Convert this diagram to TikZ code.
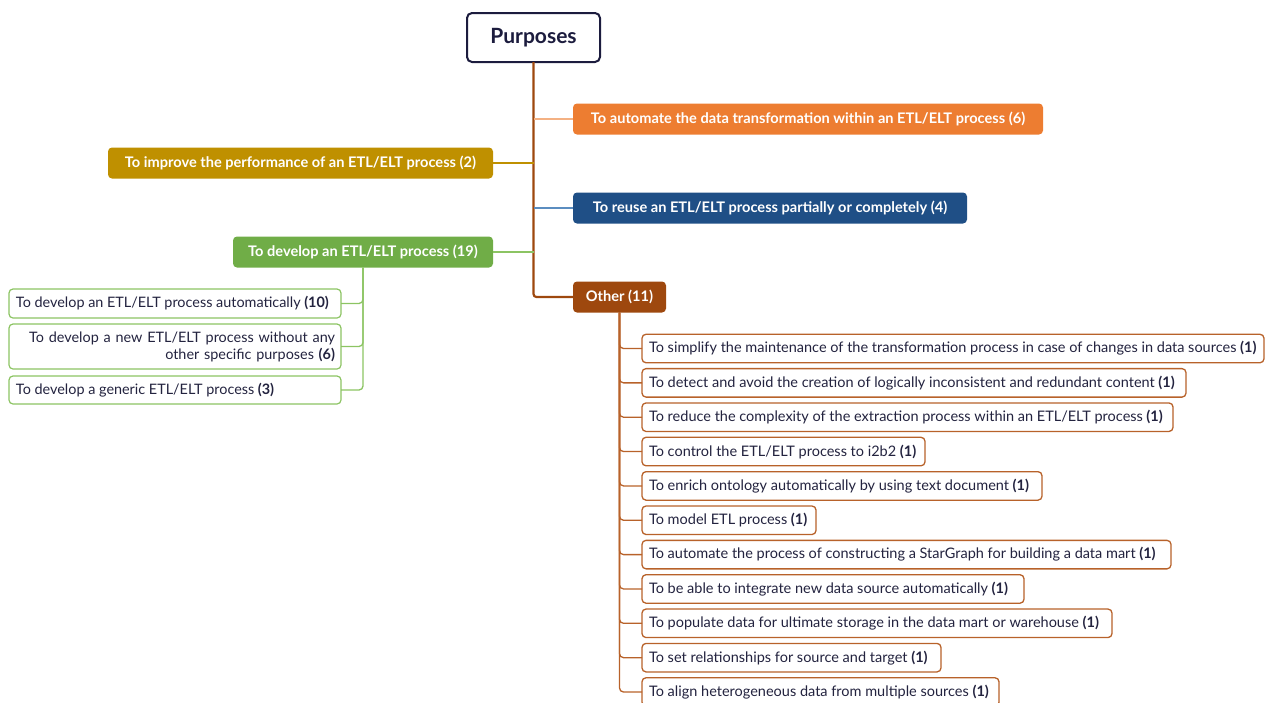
\documentclass[tikz,border=0pt]{standalone}
\usepackage{fontspec}
\setmainfont{Lato}
\definecolor{navy}{HTML}{1C1C3E}
\definecolor{ink}{HTML}{23233F}
\definecolor{corange}{HTML}{ED7D31}
\definecolor{lorange}{HTML}{F4B183}
\definecolor{cgold}{HTML}{BF9000}
\definecolor{cblue}{HTML}{1F4F86}
\definecolor{lblue}{HTML}{5B8DC0}
\definecolor{cgreen}{HTML}{70AD47}
\definecolor{lgreen}{HTML}{8CC463}
\definecolor{cbrown}{HTML}{9E480E}
\definecolor{lbrown}{HTML}{B8622A}
\newcommand{\leaftext}[2]{\makebox[\dimexpr#1pt-14pt\relax][l]{#2}}
\begin{document}
\begin{tikzpicture}[x=1pt,y=-1pt,
  every node/.style={inner sep=0pt, outer sep=0pt},
  rootbox/.style={draw=navy, line width=2pt, fill=white, rounded corners=5pt,
    minimum width=133pt, minimum height=49pt, text=navy,
    font=\fontsize{21}{24}\selectfont\bfseries},
  mainbox/.style={fill=#1, rounded corners=4pt, minimum height=31pt, text=white,
    font=\fontsize{14.6}{17}\selectfont\bfseries},
  greenleaf/.style={draw=lgreen, line width=1.2pt, fill=white, rounded corners=4pt,
    anchor=west, minimum width=332pt, text=ink, font=\fontsize{14.4}{17}\selectfont},
  otherleaf/.style={draw=lbrown, line width=1.3pt, fill=white, rounded corners=4pt,
    anchor=west, minimum height=28.5pt, text=ink, font=\fontsize{14.5}{16}\selectfont},
  trunk/.style={draw=cbrown, line width=2.2pt},
  branch/.style={draw=#1, line width=2pt},
  twig/.style={draw=#1, line width=1.3pt, rounded corners=4pt}
]
\useasboundingbox (0,0) rectangle (1266,702);
\clip (0,0) rectangle (1266,702);

% root
\node[rootbox] (root) at (533.5,37.5) {Purposes};

% main branches
\node[mainbox=corange, anchor=west, minimum width=470pt] (auto) at (573,119)
  {To automate the data transformation within an ETL/ELT process (6)};
\node[mainbox=cgold, anchor=east, minimum width=385pt] (perf) at (493,163)
  {To improve the performance of an ETL/ELT process (2)};
\node[mainbox=cblue, anchor=west, minimum width=394pt] (reuse) at (573,208)
  {To reuse an ETL/ELT process partially or completely (4)};
\node[mainbox=cgreen, anchor=east, minimum width=260pt] (dev) at (493,252)
  {To develop an ETL/ELT process (19)};
\node[mainbox=cbrown, anchor=west, minimum width=93pt] (other) at (573,297)
  {Other (11)};

% connectors of main branches
\draw[trunk, rounded corners=3pt] (root.south) -- (root.south |- other.west) -- (other.west);
\draw[branch=lorange] (root.south |- auto.west) -- (auto.west);
\draw[branch=cgold] (perf.east) -- (root.south |- perf.east);
\draw[branch=lblue] (root.south |- reuse.west) -- (reuse.west);
\draw[branch=lgreen] (dev.east) -- (root.south |- dev.east);

% green leaves
\node[greenleaf, minimum height=29pt] (g1) at (9,303.5)
  {\leaftext{332}{To develop an ETL/ELT process automatically \textbf{(10)}}};
\node[greenleaf, minimum height=45pt, align=right, text width=320pt] (g2) at (9,346.5)
  {To develop a new ETL/ELT process without any\\other specific purposes \textbf{(6)}};
\node[greenleaf, minimum height=28pt] (g3) at (9,390)
  {\leaftext{332}{To develop a generic ETL/ELT process \textbf{(3)}}};
\foreach \g in {g1,g2,g3}
  \draw[twig=lgreen] (dev.south) |- (\g.east);

% other leaves
\node[otherleaf, minimum width=622pt] (o1) at (642,348.5)
  {\leaftext{622}{To simplify the maintenance of the transformation process in case of changes in data sources \textbf{(1)}}};
\node[otherleaf, minimum width=544pt] (o2) at (642,382.85)
  {\leaftext{544}{To detect and avoid the creation of logically inconsistent and redundant content \textbf{(1)}}};
\node[otherleaf, minimum width=531pt] (o3) at (642,417.2)
  {\leaftext{531}{To reduce the complexity of the extraction process within an ETL/ELT process \textbf{(1)}}};
\node[otherleaf, minimum width=283pt] (o4) at (642,451.55)
  {\leaftext{283}{To control the ETL/ELT process to i2b2 \textbf{(1)}}};
\node[otherleaf, minimum width=400pt] (o5) at (642,485.9)
  {\leaftext{400}{To enrich ontology automatically by using text document \textbf{(1)}}};
\node[otherleaf, minimum width=174pt] (o6) at (642,520.25)
  {\leaftext{174}{To model ETL process \textbf{(1)}}};
\node[otherleaf, minimum width=529pt] (o7) at (642,554.6)
  {\leaftext{529}{To automate the process of constructing a StarGraph for building a data mart \textbf{(1)}}};
\node[otherleaf, minimum width=382pt] (o8) at (642,588.95)
  {\leaftext{382}{To be able to integrate new data source automatically \textbf{(1)}}};
\node[otherleaf, minimum width=470pt] (o9) at (642,623.3)
  {\leaftext{470}{To populate data for ultimate storage in the data mart or warehouse \textbf{(1)}}};
\node[otherleaf, minimum width=299pt] (o10) at (642,657.65)
  {\leaftext{299}{To set relationships for source and target \textbf{(1)}}};
\node[otherleaf, minimum width=357pt] (o11) at (642,692)
  {\leaftext{357}{To align heterogeneous data from multiple sources \textbf{(1)}}};
\foreach \o in {o1,o2,o3,o4,o5,o6,o7,o8,o9,o10,o11}
  \draw[twig=lbrown] (other.south) |- (\o.west);
\end{tikzpicture}
\end{document}
